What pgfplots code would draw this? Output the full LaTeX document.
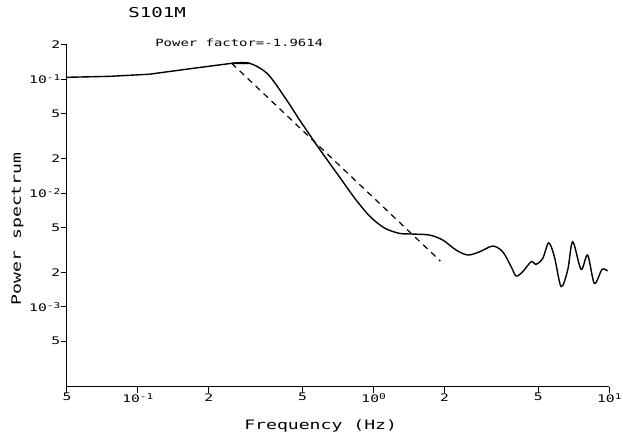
\documentclass[border=0pt]{standalone}
\usepackage{fontspec}
\usepackage{pgfplots}
\pgfplotsset{compat=1.18}
\newfontfamily\plotfont[FakeStretch=1.4]{DejaVu Sans Mono}
\newcommand{\pf}[1]{\fontsize{#1}{#1}\plotfont}
\newcommand{\dec}[1]{10\raisebox{0.55ex}{\pf{8}#1}}

\begin{document}
\begin{tikzpicture}
\begin{axis}[
    scale only axis,
    width=543bp, height=342bp,
    xmode=log, ymode=log,
    xmin=0.05, xmax=10,
    ymin=2e-4, ymax=0.2,
    axis lines*=left,
    axis line style={line width=1bp},
    tick align=inside,
    major tick length=-6bp,
    major tick style={black, line width=1bp},
    xticklabel shift=5bp, yticklabel shift=5bp,
    xtick={0.05,0.1,0.2,0.5,1,2,5,10},
    xticklabels={5,\dec{-1},2,5,\dec{0},2,5,\dec{1}},
    ytick={2e-1,1e-1,5e-2,2e-2,1e-2,5e-3,2e-3,1e-3,5e-4},
    yticklabels={2,\dec{-1},5,2,\dec{-2},5,2,\dec{-3},5},
    ticklabel style={font=\pf{10.5}, inner sep=1.5bp},
    clip=false,
]
\coordinate (sw) at (rel axis cs:0,0);
% measured spectrum: straight rise to the peak, then smooth fall
\addplot[black, line width=1.4bp] coordinates {
    (0.05,0.104) (0.076,0.106) (0.112,0.1107) (0.161,0.1225)
    (0.25,0.138) (0.298,0.138)
};
\addplot[black, line width=1.4bp, smooth, tension=0.5] coordinates {
    (0.25,0.138) (0.298,0.138) (0.356,0.1107) (0.428,0.0655)
    (0.486,0.0437) (0.59,0.0243) (0.718,0.0138) (0.831,0.00904)
    (0.962,0.00628) (1.113,0.00493) (1.289,0.00443) (1.467,0.00437)
    (1.727,0.00428) (1.966,0.00387) (2.24,0.00316) (2.509,0.00286)
    (2.813,0.00305) (3.203,0.00343) (3.531,0.00305) (3.832,0.00226)
    (4.025,0.00187) (4.292,0.00204) (4.659,0.0025) (4.891,0.00237)
    (5.218,0.00267) (5.532,0.00366) (5.848,0.00276) (6.243,0.00151)
    (6.659,0.00211) (6.992,0.00374) (7.589,0.00214) (8.092,0.00286)
    (8.64,0.00161) (9.313,0.00214) (9.836,0.00207)
};
% power-law fit
\addplot[black, line width=1.2bp, dash pattern=on 6bp off 5bp] coordinates {
    (0.25,0.138) (1.92,0.00253)
};
\end{axis}
\node[anchor=west, font=\pf{13.7}] at ([shift={(58bp,374bp)}]sw) {S101M};
\node[anchor=west, font=\pf{10}] at ([shift={(85bp,344bp)}]sw) {Power factor=-1.9614};
\node[anchor=base, font=\pf{13}] at ([shift={(254bp,-43bp)}]sw) {Frequency (Hz)};
\node[anchor=base, rotate=90, font=\pf{13}] at ([shift={(-46bp,158bp)}]sw) {Power spectrum};
\path[use as bounding box] ([shift={(-67bp,-57bp)}]sw) rectangle ([shift={(556bp,387bp)}]sw);
\end{tikzpicture}
\end{document}
